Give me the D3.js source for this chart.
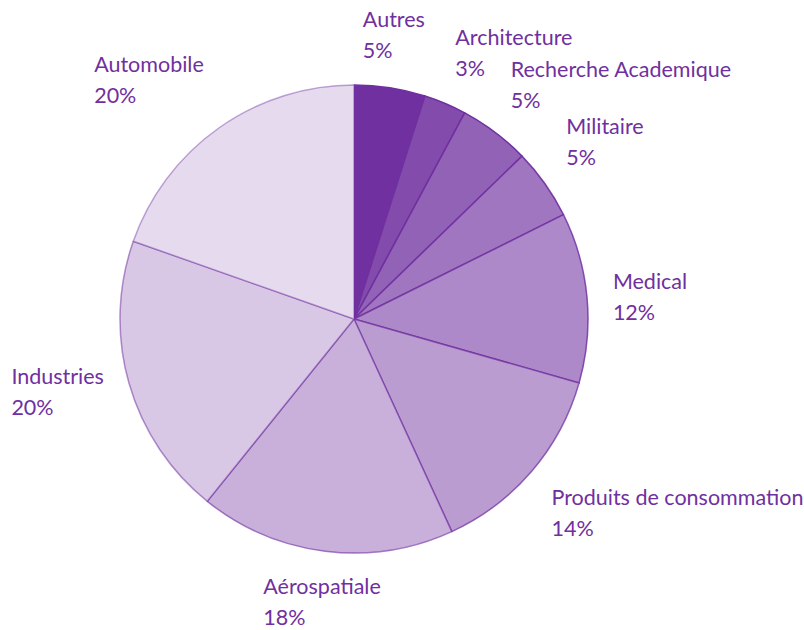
<!DOCTYPE html>
<html>
<head>
<meta charset="utf-8">
<script src="https://cdn.jsdelivr.net/npm/d3@7"></script>
<style>
  html, body { margin: 0; padding: 0; background: #ffffff; }
  svg { display: block; }
  text { font-family: Lato, "Open Sans", sans-serif; }
</style>
</head>
<body>
<svg id="chart" width="804" height="630"></svg>
<script>
const categories = ["Autres", "Architecture", "Recherche Academique", "Militaire", "Medical",
  "Produits de consommation", "Aérospatiale", "Industries", "Automobile"];
const values = [5, 3, 5, 5, 12, 14, 18, 20, 20];
const shades = [1.0, 0.87, 0.76, 0.66, 0.57, 0.48, 0.38, 0.27, 0.18];

const W = 804, H = 630;
const cx = 354, cy = 319, R = 234;
const labelGap = 26;
const baseColor = "#7030A0";
const fontSize = 21.5;

const svg = d3.select("#chart");
const g = svg.append("g").attr("transform", `translate(${cx},${cy})`);

const data = categories.map((c, i) => ({ name: c, value: values[i], shade: shades[i] }));
const total = d3.sum(values);

const pie = d3.pie().sort(null).value(d => d.value).startAngle(0).endAngle(2 * Math.PI);
const arcs = pie(data);
const arc = d3.arc().innerRadius(0).outerRadius(R);
const tint = d3.interpolateRgb("#ffffff", baseColor);

g.selectAll("path.slice")
  .data(arcs)
  .join("path")
  .attr("class", "slice")
  .attr("d", arc)
  .attr("fill", d => tint(d.data.shade))
  .attr("stroke", baseColor)
  .attr("stroke-opacity", d => Math.min(1, d.data.shade + 0.25))
  .attr("stroke-width", 1.5)
  .attr("stroke-linejoin", "round");

const labels = g.selectAll("g.label")
  .data(arcs)
  .join("g")
  .attr("class", "label");

labels.each(function(d) {
  const sel = d3.select(this);
  const t1 = sel.append("text")
    .attr("font-size", fontSize)
    .attr("fill", baseColor)
    .text(d.data.name);
  const t2 = sel.append("text")
    .attr("font-size", fontSize)
    .attr("fill", baseColor)
    .text(Math.round(d.value / total * 100) + "%");
  const w = Math.max(t1.node().getComputedTextLength(), t2.node().getComputedTextLength());
  const h = 52;
  const a = (d.startAngle + d.endAngle) / 2;
  const s = Math.sin(a), c = Math.cos(a);
  const px = (R + labelGap) * s;
  const py = -(R + labelGap) * c;
  const fx = s > 0.26 ? 0 : (s < -0.26 ? 1 : 0.5);
  const fy = c > 0.4 ? 1 : (c < -0.4 ? 0 : 0.5);
  const left = px - fx * w;
  const top = py - fy * h + (fy === 0.5 ? 3 : 0);
  t1.attr("x", left).attr("y", top + 17);
  t2.attr("x", left).attr("y", top + 48);
});
</script>
</body>
</html>
